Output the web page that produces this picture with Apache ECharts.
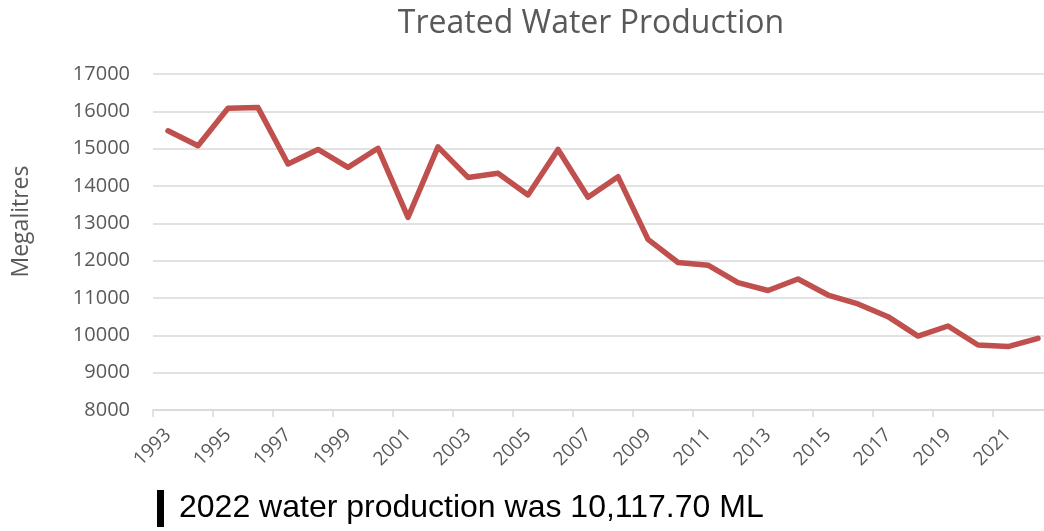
<!DOCTYPE html>
<html>
<head>
<meta charset="utf-8">
<title>Treated Water Production</title>
<script src="https://cdn.jsdelivr.net/npm/echarts@6/dist/echarts.min.js"></script>
<style>
  html, body { margin: 0; padding: 0; background: #fff; }
  #chart { width: 1044px; height: 531px; }
</style>
</head>
<body>
<div id="chart"></div>
<script>
// years shown on the category axis
var years = ['1993', '1994', '1995', '1996', '1997', '1998', '1999', '2000', '2001', '2002',
  '2003', '2004', '2005', '2006', '2007', '2008', '2009', '2010', '2011', '2012',
  '2013', '2014', '2015', '2016', '2017', '2018', '2019', '2020', '2021', '2022'];

// treated water production, megalitres
var production = [15480, 15080, 16080, 16100, 14590, 14980, 14500, 15010, 13160, 15050,
  14230, 14340, 13760, 14980, 13700, 14250, 12570, 11950, 11880, 11410,
  11200, 11510, 11080, 10840, 10500, 9980, 10250, 9740, 9700, 9920];

var yMin = 8000;
var yMax = 17000;
var yStep = 1000;

var note = '2022 water production was 10,117.70 ML';

var chart = echarts.init(document.getElementById('chart'));

var option = {
  animation: false,
  title: {
    text: 'Treated Water Production',
    left: 586,
    top: 3,
    textAlign: 'center',
    textStyle: {
      fontFamily: 'Open Sans',
      fontWeight: 'normal',
      fontSize: 32,
      color: '#595959'
    }
  },
  grid: {
    left: 153,
    width: 900,
    top: 74,
    height: 336,
    outerBoundsMode: 'none'
  },
  xAxis: {
    type: 'category',
    data: years,
    boundaryGap: true,
    axisLine: { lineStyle: { color: '#d9d9d9', width: 1.5 } },
    axisTick: { show: true, interval: 1, length: 7, lineStyle: { color: '#d9d9d9', width: 1.5 } },
    axisLabel: {
      interval: 1,
      rotate: 45,
      margin: 22,
      fontFamily: 'Open Sans',
      fontSize: 19,
      color: '#595959'
    }
  },
  yAxis: {
    type: 'value',
    min: yMin,
    max: yMax,
    interval: yStep,
    name: 'Megalitres',
    nameLocation: 'middle',
    nameGap: 120,
    nameTextStyle: {
      fontFamily: 'Open Sans',
      fontSize: 23,
      color: '#595959',
      padding: [0, 0, 0, 41]
    },
    axisLine: { show: false },
    axisTick: { show: false },
    axisLabel: {
      margin: 23,
      fontFamily: 'Open Sans',
      fontSize: 20,
      color: '#595959',
      formatter: function (v) { return String(v); }
    },
    splitLine: { lineStyle: { color: '#d9d9d9', width: 1.5 } }
  },
  series: [
    {
      name: 'Production',
      type: 'line',
      data: production,
      symbol: 'none',
      lineStyle: { color: '#c0504d', width: 5.5, join: 'round', cap: 'round' }
    }
  ],
  graphic: [
    {
      type: 'rect',
      left: 157,
      top: 490,
      shape: { width: 7, height: 37 },
      style: { fill: '#000' }
    },
    {
      type: 'text',
      left: 179,
      top: 492,
      style: {
        text: note,
        fontFamily: 'Liberation Sans',
        fontSize: 32,
        fill: '#000'
      }
    }
  ]
};

chart.setOption(option);
</script>
</body>
</html>
